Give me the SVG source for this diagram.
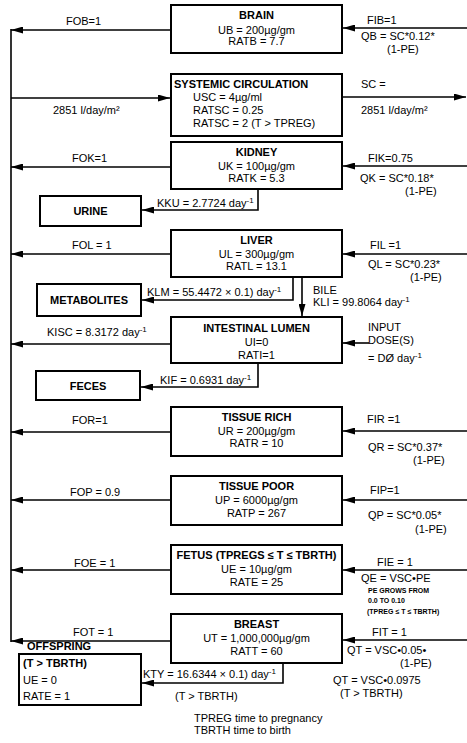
<svg xmlns="http://www.w3.org/2000/svg" width="467" height="743" viewBox="0 0 467 743">
<style>
.box{fill:#fff;stroke:#000;stroke-width:2}
.ln{fill:none;stroke:#000;stroke-width:1.6}
.ar{fill:none;stroke:#000;stroke-width:1.6;marker-end:url(#ah)}
text{font-family:"Liberation Sans",Arial,sans-serif;font-size:11px;fill:#000}
.t{font-weight:bold}
.c{text-anchor:middle}
.s{font-size:7px;font-weight:bold}
.sup{font-size:8px}
</style>
<defs>
<marker id="ah" markerUnits="userSpaceOnUse" markerWidth="13" markerHeight="7" refX="12" refY="3.5" orient="auto">
<path d="M0,0 L12,3.5 L0,7 Z" fill="#000"/>
</marker>
</defs>

<g id="connectors">
<line class="ln" x1="11" y1="29" x2="11" y2="642"/>
<line class="ar" x1="171" y1="30" x2="11" y2="30"/>
<line class="ar" x1="467" y1="28" x2="343" y2="28"/>
<line class="ar" x1="11" y1="98" x2="170" y2="98"/>
<line class="ar" x1="342" y1="97" x2="466" y2="97"/>
<line class="ar" x1="171" y1="167" x2="11" y2="167"/>
<line class="ar" x1="467" y1="166" x2="343" y2="166"/>
<polyline class="ar" points="258,189 258,210 142,210"/>
<line class="ar" x1="171" y1="254" x2="11" y2="254"/>
<line class="ar" x1="467" y1="254" x2="343" y2="254"/>
<polyline class="ar" points="293,277 293,300 142,300"/>
<line class="ar" x1="302" y1="277" x2="302" y2="316"/>
<line class="ar" x1="171" y1="344" x2="11" y2="344"/>
<line class="ar" x1="369" y1="343" x2="343" y2="343"/>
<polyline class="ar" points="258,363 258,387 141,387"/>
<line class="ar" x1="171" y1="432" x2="11" y2="432"/>
<line class="ar" x1="467" y1="431" x2="343" y2="431"/>
<line class="ar" x1="171" y1="500" x2="11" y2="500"/>
<line class="ar" x1="467" y1="500" x2="343" y2="500"/>
<line class="ar" x1="171" y1="570" x2="11" y2="570"/>
<line class="ar" x1="467" y1="570" x2="343" y2="570"/>
<line class="ar" x1="171" y1="641" x2="11" y2="641"/>
<line class="ar" x1="467" y1="640" x2="343" y2="640"/>
<polyline class="ar" points="283,663 283,683 142,683"/>
</g>

<g id="labels">
<text x="66" y="25">FOB=1</text>
<text x="367" y="24">FIB=1</text>
<text x="361" y="40">QB = SC*0.12*</text>
<text x="387" y="53">(1-PE)</text>
<text x="53" y="114">2851 l/day/m²</text>
<text x="361" y="88">SC =</text>
<text x="361" y="114">2851 l/day/m²</text>
<text x="72" y="162">FOK=1</text>
<text x="368" y="162">FIK=0.75</text>
<text x="360" y="182">QK = SC*0.18*</text>
<text x="405" y="195">(1-PE)</text>
<text x="157" y="207">KKU = 2.7724 day<tspan class="sup" dy="-4">-1</tspan></text>
<text x="72" y="249">FOL = 1</text>
<text x="370" y="249">FIL =1</text>
<text x="368" y="268">QL = SC*0.23*</text>
<text x="410" y="281">(1-PE)</text>
<text x="147" y="296">KLM = 55.4472 × 0.1) day<tspan class="sup" dy="-4">-1</tspan></text>
<text x="313" y="294">BILE</text>
<text x="313" y="306">KLI = 99.8064 day<tspan class="sup" dy="-4">-1</tspan></text>
<text x="47" y="336">KISC = 8.3172 day<tspan class="sup" dy="-4">-1</tspan></text>
<text x="368" y="331">INPUT</text>
<text x="368" y="344">DOSE(S)</text>
<text x="368" y="362">= DØ day<tspan class="sup" dy="-4">-1</tspan></text>
<text x="160" y="384">KIF = 0.6931 day<tspan class="sup" dy="-4">-1</tspan></text>
<text x="72" y="424">FOR=1</text>
<text x="367" y="423">FIR =1</text>
<text x="368" y="451">QR = SC*0.37*</text>
<text x="413" y="464">(1-PE)</text>
<text x="70" y="496">FOP = 0.9</text>
<text x="370" y="494">FIP=1</text>
<text x="368" y="519">QP = SC*0.05*</text>
<text x="415" y="533">(1-PE)</text>
<text x="74" y="567">FOE = 1</text>
<text x="377" y="566">FIE = 1</text>
<text x="361" y="582">QE = VSC•PE</text>
<text class="s" x="368" y="593">PE GROWS FROM</text>
<text class="s" x="368" y="603">0.0 TO 0.10</text>
<text class="s" x="367" y="614">(TPREG ≤ T ≤ TBRTH)</text>
<text x="73" y="636">FOT = 1</text>
<text x="372" y="636">FIT = 1</text>
<text x="347" y="654">QT = VSC•0.05•</text>
<text x="400" y="667">(1-PE)</text>
<text x="333" y="684">QT = VSC•0.0975</text>
<text x="340" y="697">(T &gt; TBRTH)</text>
<text x="143" y="678">KTY = 16.6344 × 0.1) day<tspan class="sup" dy="-4">-1</tspan></text>
<text x="175" y="700">(T &gt; TBRTH)</text>
<text x="194" y="722">TPREG time to pregnancy</text>
<text x="194" y="734">TBRTH time to birth</text>
</g>

<g id="brain">
<rect class="box" x="171" y="5" width="171" height="48"/>
<text class="t c" x="256.5" y="19">BRAIN</text>
<text class="c" x="256.5" y="34">UB = 200µg/gm</text>
<text class="c" x="256.5" y="45">RATB = 7.7</text>
</g>
<g id="systemic-circulation">
<rect class="box" x="171" y="74" width="171" height="62"/>
<text class="t" x="174" y="88">SYSTEMIC CIRCULATION</text>
<text x="193" y="101">USC = 4µg/ml</text>
<text x="193" y="114">RATSC = 0.25</text>
<text x="193" y="127">RATSC = 2 (T &gt; TPREG)</text>
</g>
<g id="kidney">
<rect class="box" x="171" y="142" width="171" height="47"/>
<text class="t c" x="256.5" y="156">KIDNEY</text>
<text class="c" x="256.5" y="170">UK = 100µg/gm</text>
<text class="c" x="256.5" y="182">RATK = 5.3</text>
</g>
<g id="urine">
<rect class="box" x="40" y="196" width="101" height="30"/>
<text class="t c" x="90.5" y="215">URINE</text>
</g>
<g id="liver">
<rect class="box" x="171" y="230" width="171" height="47"/>
<text class="t c" x="256.5" y="244">LIVER</text>
<text class="c" x="256.5" y="258">UL = 300µg/gm</text>
<text class="c" x="256.5" y="270">RATL = 13.1</text>
</g>
<g id="metabolites">
<rect class="box" x="37" y="284" width="104" height="32"/>
<text class="t c" x="89" y="304">METABOLITES</text>
</g>
<g id="intestinal-lumen">
<rect class="box" x="171" y="317" width="171" height="46"/>
<text class="t c" x="256.5" y="332">INTESTINAL LUMEN</text>
<text class="c" x="256.5" y="346">UI=0</text>
<text class="c" x="256.5" y="359">RATI=1</text>
</g>
<g id="feces">
<rect class="box" x="36" y="371" width="104" height="29"/>
<text class="t c" x="88" y="390">FECES</text>
</g>
<g id="tissue-rich">
<rect class="box" x="171" y="407" width="171" height="49"/>
<text class="t c" x="256.5" y="421">TISSUE RICH</text>
<text class="c" x="256.5" y="435">UR = 200µg/gm</text>
<text class="c" x="256.5" y="447">RATR = 10</text>
</g>
<g id="tissue-poor">
<rect class="box" x="171" y="476" width="171" height="49"/>
<text class="t c" x="256.5" y="490">TISSUE POOR</text>
<text class="c" x="256.5" y="504">UP = 6000µg/gm</text>
<text class="c" x="256.5" y="517">RATP = 267</text>
</g>
<g id="fetus">
<rect class="box" x="171" y="545" width="171" height="49"/>
<text class="t c" x="256.5" y="559">FETUS (TPREGS ≤ T ≤ TBRTH)</text>
<text class="c" x="256.5" y="573">UE = 10µg/gm</text>
<text class="c" x="256.5" y="586">RATE = 25</text>
</g>
<g id="breast">
<rect class="box" x="171" y="614" width="171" height="49"/>
<text class="t c" x="256.5" y="628">BREAST</text>
<text class="c" x="256.5" y="642">UT = 1,000,000µg/gm</text>
<text class="c" x="256.5" y="655">RATT = 60</text>
</g>
<g id="offspring">
<text class="t" x="27" y="650">OFFSPRING</text>
<rect class="box" x="19" y="654" width="122" height="51"/>
<text class="t" x="23" y="667">(T &gt; TBRTH)</text>
<text x="23" y="684">UE = 0</text>
<text x="23" y="700">RATE = 1</text>
</g>
</svg>
